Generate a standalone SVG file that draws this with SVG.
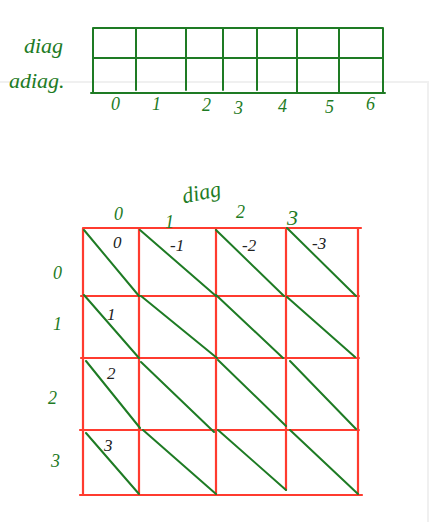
<svg xmlns="http://www.w3.org/2000/svg" width="436" height="522" viewBox="0 0 436 522">
<style>
.g{stroke:#1e7b24;stroke-width:2;fill:none;stroke-linecap:round}
.r{stroke:#ff3b2f;stroke-width:2.2;fill:none;stroke-linecap:round}
.gt{fill:#1e7b24;font-family:"Liberation Serif",serif;font-style:italic}
.kt{fill:#222;font-family:"Liberation Serif",serif;font-style:italic}
</style>
<rect width="436" height="522" fill="#ffffff"/>
<path d="M0 82 H428 V522" fill="none" stroke="#f0f0f0" stroke-width="2"/>
<g id="top-array">
<path class="g" d="M93 28 H383 M93 58 H383 M91 93 H385 M93 28 V93 M136 28 V90 M186 28 V90 M223 28 V90 M257 28 V90 M297 28 V93 M339 28 V93 M383 28 V93"/>
<text class="gt" x="24" y="53" font-size="22">diag</text>
<text class="gt" x="9" y="88" font-size="22">adiag.</text>
<g font-size="18" class="gt">
<text x="111" y="110">0</text>
<text x="152" y="110">1</text>
<text x="202" y="111">2</text>
<text x="234" y="114">3</text>
<text x="278" y="112">4</text>
<text x="325" y="113">5</text>
<text x="366" y="110">6</text>
</g>
</g>
<g id="matrix-grid">
<path class="r" d="M83 228 H361 M81 296 H359 M81 358 H359 M80 430 H359 M80 495 H362 M83 228 V495 M139 228 V495 M216 228 V495 M286 228 V490 M358 228 V495"/>
</g>
<g id="connectors">
<path class="g" d="M84 230 L139 296 M140 230 L216 296 M216 230 L284 296 M287 228 L356 296
M84 295 L139 358 M141 296 L217 358 M216 295 L283 358 M287 297 L355 357
M86 361 L140 428 M141 362 L214 432 M218 360 L286 426 M290 361 L356 429
M86 433 L139 494 M143 430 L216 494 M218 430 L286 490 M290 430 L358 494"/>
</g>
<g id="col-labels" class="gt" font-size="18">
<text x="182" y="200" font-size="22" transform="rotate(-12 200 193)">diag</text>
<text x="114" y="220">0</text>
<text x="165" y="228">1</text>
<text x="236" y="218">2</text>
<text x="287" y="225" font-size="22">3</text>
</g>
<g id="row-labels" class="gt" font-size="18">
<text x="53" y="279">0</text>
<text x="53" y="330">1</text>
<text x="48" y="404">2</text>
<text x="51" y="467">3</text>
</g>
<g id="cell-labels" class="kt" font-size="17">
<text x="113" y="248">0</text>
<text x="170" y="251">-1</text>
<text x="242" y="251">-2</text>
<text x="312" y="249">-3</text>
<text x="107" y="320">1</text>
<text x="107" y="379">2</text>
<text x="104" y="451">3</text>
</g>
</svg>
